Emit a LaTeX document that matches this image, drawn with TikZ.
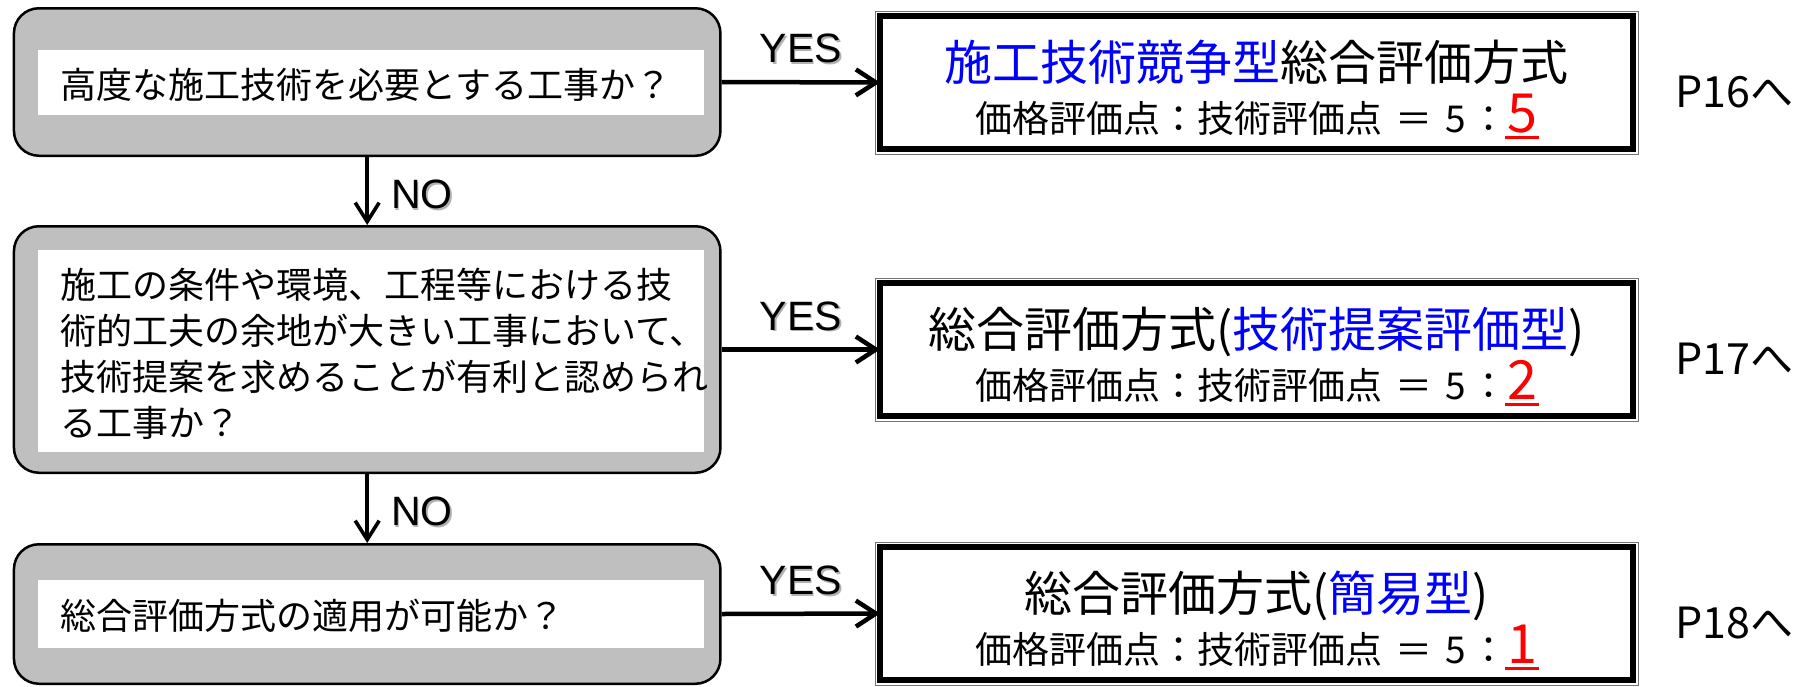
\documentclass[tikz,border=0pt]{standalone}
\usepackage{fontspec}
\usetikzlibrary{arrows.meta}
\newfontfamily\jp{Noto Sans CJK JP}
\newfontfamily\lat{Liberation Sans}
\definecolor{boxgray}{RGB}{191,191,191}
\definecolor{jblue}{RGB}{0,0,255}
\definecolor{jred}{RGB}{255,0,0}
\newcommand\shtext[1]{\makebox[0pt][l]{\hspace{1.8pt}\raisebox{-1.8pt}{\textcolor{black!30}{#1}}}#1}
\newcommand\rdig[1]{{\fontsize{54}{54}\selectfont\textcolor{jred}{\setbox0\hbox{#1}\rlap{\hspace{-2pt}\rule[-7pt]{\dimexpr\wd0+4pt\relax}{3pt}}\box0}}}
\newcommand\ratio[1]{価格評価点：技術評価点\hspace{0.35em}＝\hspace{0.35em}5\hspace{0.1em}：\rdig{#1}}
\begin{document}
\begin{tikzpicture}[x=1pt,y=-1pt,
  qbox/.style={draw=black, line width=2.5pt, fill=boxgray, rounded corners=25pt,
    minimum width=706.5pt, inner sep=0pt},
  wbox/.style={fill=white, inner sep=0pt, minimum width=666pt},
  rbox/.style={draw=black, line width=6pt, fill=white, minimum width=753pt,
    minimum height=133pt, inner sep=0pt, outer sep=0pt},
  rframe/.style={draw=black!55, line width=1pt},
  qtext/.style={anchor=base west, inner sep=0pt, font=\jp\fontsize{36}{46}\selectfont, align=left},
  rtitle/.style={anchor=base, inner sep=0pt, font=\jp\fontsize{48}{48}\selectfont},
  rratio/.style={anchor=base, inner sep=0pt, font=\jp\fontsize{37}{37}\selectfont},
  plabel/.style={anchor=base west, inner sep=0pt, font=\jp\fontsize{43}{43}\selectfont},
  harrow/.style={line width=4.5pt, -{Straight Barb[length=20pt,width=26pt]}},
  varrow/.style={line width=3.6pt, -{Straight Barb[length=19pt,width=24pt]}},
  yeslab/.style={midway, above=15pt, inner sep=0pt, font=\lat\fontsize{41}{41}\selectfont},
  nolab/.style={midway, right=22pt, yshift=-4pt, inner sep=0pt, font=\lat\fontsize{41}{41}\selectfont}
]
\useasboundingbox (0,0) rectangle (1804,686);

% question boxes
\node[qbox, minimum height=147.5pt] (q1) at (367.2,82) {};
\node[qbox, minimum height=246.5pt] (q2) at (367.2,349.5) {};
\node[qbox, minimum height=139.5pt] (q3) at (367.2,614) {};
\node[wbox, minimum height=65pt] (w1) at (371,82.5) {};
\node[wbox, minimum height=202pt] (w2) at (371,351) {};
\node[wbox, minimum height=68pt] (w3) at (371,614) {};
\node[qtext] (t1) at (60,98) {高度な施工技術を必要とする工事か？};
\node[qtext, anchor=north west] (t2) at (60,268) {施工の条件や環境、工程等における技\\術的工夫の余地が大きい工事において、\\技術提案を求めることが有利と認められ\\る工事か？};
\node[qtext] (t3) at (60,629) {総合評価方式の適用が可能か？};

% result boxes
\node[rbox] (r1) at (1256.5,82.5) {};
\node[rbox] (r2) at (1256.5,349.5) {};
\node[rbox] (r3) at (1256.5,613.5) {};
\foreach \r in {r1,r2,r3}
  \draw[rframe] ([xshift=-5pt,yshift=5pt]\r.north west) rectangle ([xshift=5pt,yshift=-5pt]\r.south east);

\node[rtitle] (a1) at (1256.5,80) {\textcolor{jblue}{施工技術競争型}総合評価方式};
\node[rratio] (b1) at (1256.5,132) {\ratio{5}};
\node[rtitle] (a2) at (1256.5,347) {総合評価方式(\textcolor{jblue}{技術提案評価型})};
\node[rratio] (b2) at (1256.5,399) {\ratio{2}};
\node[rtitle] (a3) at (1256.5,611) {総合評価方式(\textcolor{jblue}{簡易型})};
\node[rratio] (b3) at (1256.5,663) {\ratio{1}};

% page references
\node[plabel] (p1) at (1675,107) {P16へ};
\node[plabel] (p2) at (1675,374) {P17へ};
\node[plabel] (p3) at (1675,638) {P18へ};

% connectors
\draw[harrow] (q1.east) -- node[yeslab] {\shtext{YES}} (r1.west);
\draw[harrow] (q2.east) -- node[yeslab] {\shtext{YES}} (r2.west);
\draw[harrow] (q3.east) -- node[yeslab] {\shtext{YES}} (r3.west);
\draw[varrow] (q1.south) -- node[nolab] {\shtext{NO}} (q2.north);
\draw[varrow] (q2.south) -- node[nolab] {\shtext{NO}} (q3.north);
\end{tikzpicture}
\end{document}
